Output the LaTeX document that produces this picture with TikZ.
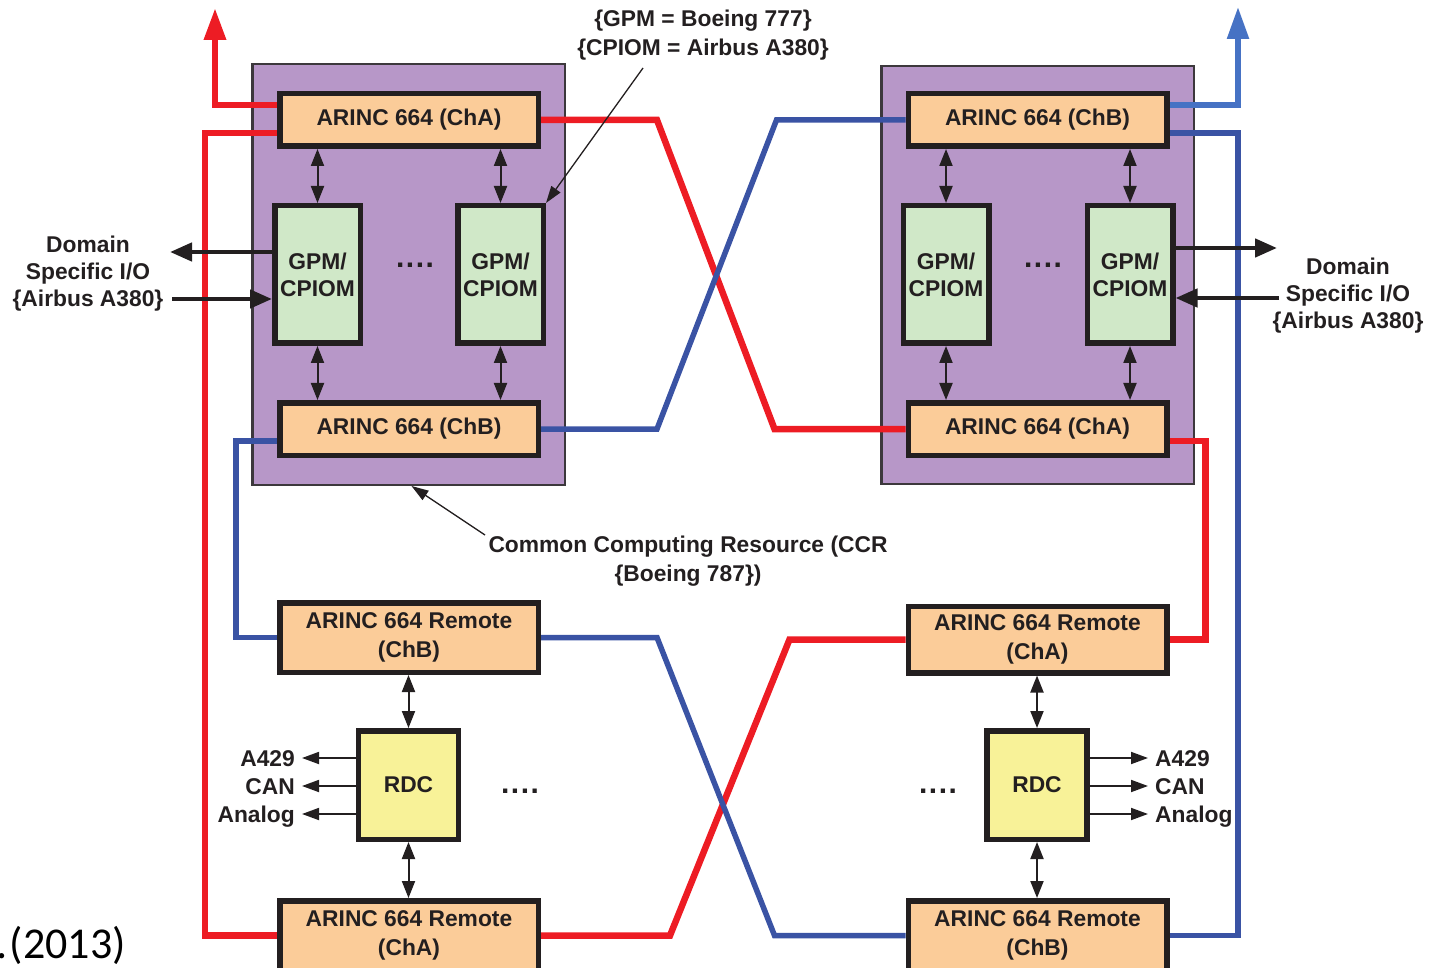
\documentclass[tikz,border=0pt]{standalone}
\usepackage{fontspec}
\setmainfont{Liberation Sans}
\newfontfamily\calfont{Carlito}
\usetikzlibrary{arrows.meta}
\pgfdeclarelayer{back}
\pgfdeclarelayer{lines}
\pgfsetlayers{back,lines,main}
\definecolor{ink}{RGB}{35,31,32}
\definecolor{ccrfill}{RGB}{183,151,200}
\definecolor{ccrborder}{RGB}{60,56,60}
\definecolor{orangefill}{RGB}{251,204,153}
\definecolor{greenfill}{RGB}{208,232,200}
\definecolor{yellowfill}{RGB}{248,242,152}
\definecolor{redc}{RGB}{237,28,36}
\definecolor{bluec}{RGB}{58,83,164}
\definecolor{lbluec}{RGB}{70,114,196}
\newcommand{\fourdots}{{\fontsize{30}{30}\selectfont .\hspace{1.5pt}.\hspace{1.5pt}.\hspace{1.5pt}.}}
\begin{document}
\begin{tikzpicture}[x=1pt,y=-1pt,
  txt/.style={text=ink, font=\bfseries\fontsize{22.8}{28.5}\selectfont, align=center},
  abox/.style={draw=ink, line width=5.5pt, fill=orangefill, inner sep=0pt,
    minimum width=258.5pt, minimum height=52.5pt, txt},
  rbox/.style={abox, minimum height=69.5pt},
  gbox/.style={draw=ink, line width=5.5pt, fill=greenfill, inner sep=0pt,
    minimum width=85.5pt, minimum height=137.5pt, txt, font=\bfseries\fontsize{22.8}{27}\selectfont},
  rdcbox/.style={draw=ink, line width=5.5pt, fill=yellowfill, inner sep=0pt,
    minimum width=100pt, minimum height=108.5pt, txt},
  ccr/.style={draw=ccrborder, line width=2.5pt, fill=ccrfill, inner sep=0pt},
  lbl/.style={txt, inner sep=0pt, text height=16pt, text depth=0pt},
  redline/.style={draw=redc, line width=6.5pt},
  blueline/.style={draw=bluec, line width=5.5pt},
  lblueline/.style={draw=lbluec, line width=5.5pt},
  dbl/.style={draw=ink, line width=2pt,
    {Triangle[length=17pt,width=13pt]}-{Triangle[length=17pt,width=13pt]}},
  ioarrow/.style={draw=ink, line width=4.5pt, -{Triangle[length=22pt,width=18pt]}},
  sarrow/.style={draw=ink, line width=1.8pt, -{Triangle[length=17pt,width=12pt]}},
  ptr/.style={draw=ink, line width=1.3pt, -{Triangle[length=17pt,width=11pt]}},
  bigtip/.style={-{Triangle[length=32pt,width=21pt]}}
]
\useasboundingbox (0,0) rectangle (1433,968);

% CCR cabinets
\begin{pgfonlayer}{back}
\node[ccr, minimum width=312.5pt, minimum height=420.5pt] (ccrL) at (408.5,274.5) {};
\node[ccr, minimum width=312.5pt, minimum height=417.5pt] (ccrR) at (1037.5,275) {};
\end{pgfonlayer}

% ARINC switches in cabinets
\node[abox] (aL1) at (409,120) {ARINC 664 (ChA)};
\node[abox] (aL2) at (409,429) {ARINC 664 (ChB)};
\node[abox] (aR1) at (1037.5,120) {ARINC 664 (ChB)};
\node[abox] (aR2) at (1037.5,429) {ARINC 664 (ChA)};

% GPM/CPIOM modules
\node[gbox] (gL1) at (317.5,274.5) {GPM/\\CPIOM};
\node[gbox] (gL2) at (500.5,274.5) {GPM/\\CPIOM};
\node[gbox] (gR1) at (946,274.5) {GPM/\\CPIOM};
\node[gbox] (gR2) at (1130,274.5) {GPM/\\CPIOM};
\node[txt] (dots1) at (415,265) {\fourdots};
\node[txt] (dots2) at (1043,265) {\fourdots};

% Remote units
\node[rbox] (rL1) at (409,637.5) {ARINC 664 Remote\\(ChB)};
\node[rbox] (rL2) at (409,935.5) {ARINC 664 Remote\\(ChA)};
\node[rbox, minimum height=66.5pt] (rR1) at (1037.5,639.5) {ARINC 664 Remote\\(ChA)};
\node[rbox] (rR2) at (1037.5,935.5) {ARINC 664 Remote\\(ChB)};

\node[rdcbox] (rdcL) at (408.5,785) {RDC};
\node[rdcbox] (rdcR) at (1037,785) {RDC};
\node[txt] (dots3) at (520,791) {\fourdots};
\node[txt] (dots4) at (938,791) {\fourdots};

% Labels
\node[txt, font=\bfseries\fontsize{22.8}{27}\selectfont] (ioLtxt) at (88,274) {Domain\\Specific I/O\\\{Airbus A380\}};
\node[txt, font=\bfseries\fontsize{22.8}{27}\selectfont] (ioRtxt) at (1348,296) {Domain\\Specific I/O\\\{Airbus A380\}};
\node[txt, font=\bfseries\fontsize{22.8}{29}\selectfont] (note) at (703,35) {\{GPM = Boeing 777\}\\\{CPIOM = Airbus A380\}};
\node[txt] (ccrnote) at (688,561) {Common Computing Resource (CCR\\\{Boeing 787\})};
\node[anchor=base east, inner sep=0pt, font=\calfont\fontsize{44}{44}\selectfont] (cite) at (126,958) {.\kern2pt(2013)};

\node[lbl, anchor=east] (la1) at (295,758) {A429};
\node[lbl, anchor=east] (la2) at (295,786) {CAN};
\node[lbl, anchor=east] (la3) at (295,814) {Analog};
\node[lbl, anchor=west] (ra1) at (1155,758) {A429};
\node[lbl, anchor=west] (ra2) at (1155,786) {CAN};
\node[lbl, anchor=west] (ra3) at (1155,814) {Analog};

\coordinate (redtop) at (215,8);
\coordinate (redL) at (205,0);
\coordinate (bluetop) at (1238,7);
\coordinate (blueR) at (1238,0);
\coordinate (ioL1) at (170,252);
\coordinate (ioL2) at (172,299);
\coordinate (ioR1) at (1277,248);
\coordinate (ioR2) at (1279,298);
\coordinate (np) at (643,68);
\coordinate (cp) at (485,535);
\coordinate (tl1) at (302,758);
\coordinate (tl2) at (302,786);
\coordinate (tl3) at (302,814);
\coordinate (tr1) at (1148,758);
\coordinate (tr2) at (1148,786);
\coordinate (tr3) at (1148,814);

% Network lines
\begin{pgfonlayer}{lines}
\draw[redline, bigtip] ([yshift=15pt]aL1.west) -| (redtop);
\draw[redline] ([yshift=-13pt]aL1.west) -| (redL |- rL2.west) -- (rL2.west);
\draw[redline] (aL1.east) -- ++(116,0) -- ([xshift=-131pt]aR2.west) -- (aR2.west);
\draw[redline] ([yshift=-12pt]aR2.east) -- ++(36,0) |- (rR1.east);
\draw[redline] (rR1.west) -- ++(-116,0) -- ([xshift=129pt]rL2.east) -- (rL2.east);

\draw[lblueline, bigtip] ([yshift=15pt]aR1.east) -| (bluetop);
\draw[blueline] ([yshift=-13pt]aR1.east) -| (blueR |- rR2.east) -- (rR2.east);
\draw[blueline] (aR1.west) -- ++(-129,0) -- ([xshift=116pt]aL2.east) -- (aL2.east);
\draw[blueline] ([yshift=-12pt]aL2.west) -- ++(-41,0) |- (rL1.west);
\draw[blueline] (rL1.east) -- ++(116,0) -- ([xshift=-131pt]rR2.west) -- (rR2.west);
\end{pgfonlayer}

% internal double arrows
\draw[dbl] (aL1.south -| gL1.north) -- (gL1.north);
\draw[dbl] (aL1.south -| gL2.north) -- (gL2.north);
\draw[dbl] (gL1.south) -- (gL1.south |- aL2.north);
\draw[dbl] (gL2.south) -- (gL2.south |- aL2.north);
\draw[dbl] (aR1.south -| gR1.north) -- (gR1.north);
\draw[dbl] (aR1.south -| gR2.north) -- (gR2.north);
\draw[dbl] (gR1.south) -- (gR1.south |- aR2.north);
\draw[dbl] (gR2.south) -- (gR2.south |- aR2.north);
\draw[dbl] (rL1.south -| rdcL.north) -- (rdcL.north);
\draw[dbl] (rdcL.south) -- (rdcL.south |- rL2.north);
\draw[dbl] (rR1.south -| rdcR.north) -- (rdcR.north);
\draw[dbl] (rdcR.south) -- (rdcR.south |- rR2.north);

% domain specific I/O
\draw[ioarrow] ([yshift=22.5pt]gL1.west) -- (ioL1);
\draw[ioarrow] (ioL2) -- ([yshift=-24.5pt]gL1.west);
\draw[ioarrow] ([yshift=26.5pt]gR2.east) -- (ioR1);
\draw[ioarrow] (ioR2) -- ([yshift=-23.5pt]gR2.east);

% RDC I/O
\draw[sarrow] (rdcL.west |- tl1) -- (tl1);
\draw[sarrow] (rdcL.west |- tl2) -- (tl2);
\draw[sarrow] (rdcL.west |- tl3) -- (tl3);
\draw[sarrow] (rdcR.east |- tr1) -- (tr1);
\draw[sarrow] (rdcR.east |- tr2) -- (tr2);
\draw[sarrow] (rdcR.east |- tr3) -- (tr3);

% pointers
\draw[ptr] (np) -- (gL2.north east);
\draw[ptr] (cp) -- ([xshift=3pt]ccrL.south);
\end{tikzpicture}
\end{document}
